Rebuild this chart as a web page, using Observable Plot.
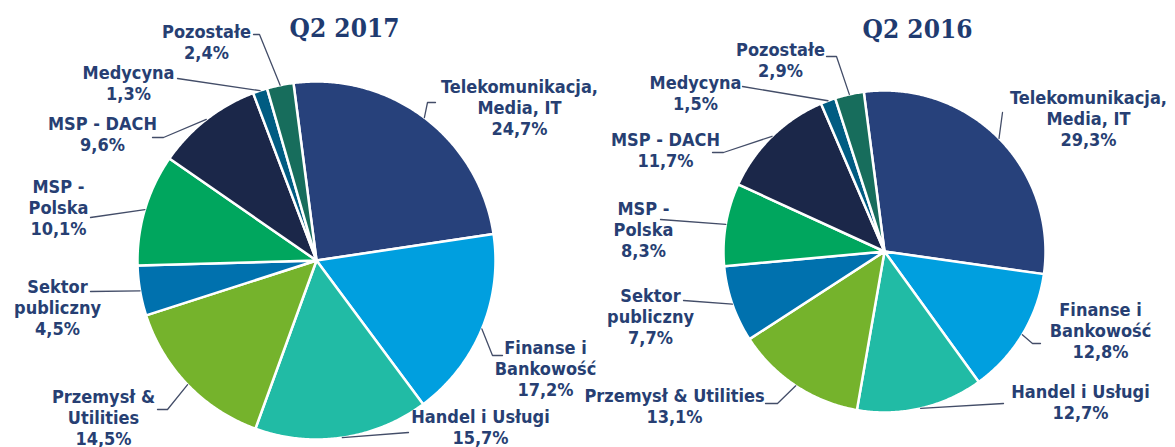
<!DOCTYPE html>
<html>
<head>
<meta charset="utf-8">
<script src="https://cdn.jsdelivr.net/npm/d3@7"></script>
<script src="https://cdn.jsdelivr.net/npm/@observablehq/plot@0.6"></script>
<style>
  html, body { margin: 0; padding: 0; background: #ffffff; }
  #chart svg { display: block; font-stretch: condensed; }
</style>
</head>
<body>
<div id="chart"></div>
<script>
// ---------- data ----------
const categories = [
  "Telekomunikacja, Media, IT",
  "Finanse i Bankowość",
  "Handel i Usługi",
  "Przemysł & Utilities",
  "Sektor publiczny",
  "MSP - Polska",
  "MSP - DACH",
  "Medycyna",
  "Pozostałe"
];
const periods = ["Q2 2017", "Q2 2016"];
const q2_2017 = [24.7, 17.2, 15.7, 14.5, 4.5, 10.1, 9.6, 1.3, 2.4];
const q2_2016 = [29.3, 12.8, 12.7, 13.1, 7.7, 8.3, 11.7, 1.5, 2.9];

// ---------- styles ----------
const colors = ["#27417b", "#009fdf", "#21bba5", "#75b32c", "#0071ae", "#00a65e", "#1b2749", "#015c82", "#176d5c"];
const textColor = "#273f73";
const lineColor = "#434d68";
const labelFont = "'DejaVu Sans Condensed', 'DejaVu Sans', sans-serif";
const titleFont = "'DejaVu Serif Condensed', 'DejaVu Serif', serif";
const rotation = -7.4 * Math.PI / 180;

// ---------- layout (pixel positions of the annotations) ----------
const layout = [
  { cx: 316, cy: 260, r: 179, title: [344, 28],
    labels: [
      { x: 519, y: 107,   br: [0], path: [[427, 102], [435, 102]] },
      { x: 545, y: 368,   br: [1], path: [[492, 355], [502, 355]] },
      { x: 480, y: 426.5, br: [],  path: [[408, 432]] },
      { x: 103, y: 416.5, br: [1], path: [[167, 409], [157, 409]] },
      { x: 57,  y: 307,   br: [0], path: [[90, 291]] },
      { x: 58,  y: 207,   br: [1], path: [[90, 217]] },
      { x: 102, y: 133,   br: [],  path: [[163, 137], [152, 137]] },
      { x: 128, y: 82.5,  br: [],  path: [[177, 78]] },
      { x: 206, y: 41.5,  br: [],  path: [[259, 34], [253, 34]] }
    ] },
  { cx: 884, cy: 251, r: 161, title: [917, 29],
    labels: [
      { x: 1088, y: 118,   br: [0], path: [[1002, 112]] },
      { x: 1100, y: 330,   br: [1], path: [[1032, 343], [1040, 343]] },
      { x: 1080, y: 401,   br: [],  path: [[1003, 403]] },
      { x: 674,  y: 405.5, br: [],  path: [[777, 403], [765, 403]] },
      { x: 650,  y: 316,   br: [0], path: [[683, 300]] },
      { x: 643,  y: 229,   br: [1], path: [[660, 219]] },
      { x: 665,  y: 149,   br: [],  path: [[723, 152], [712, 152]] },
      { x: 695,  y: 92,    br: [],  path: [[742, 86]] },
      { x: 780,  y: 59.5,  br: [],  path: [[836, 56], [826, 56]] }
    ] }
];

const series = [q2_2017, q2_2016];
const fmt = v => d3.format(".1f")(v).replace(".", ",") + "%";
function wrap(name, br) {
  const words = name.split(" ");
  let out = "";
  words.forEach((w, i) => {
    out += w;
    if (i < words.length - 1) out += br.includes(i) ? "\n" : " ";
  });
  return out;
}

const slices = [], leaders = [], labels = [], titles = [];
series.forEach((values, pi) => {
  const L = layout[pi];
  const arcs = d3.pie().sort(null).startAngle(rotation).endAngle(rotation + 2 * Math.PI)(values);
  arcs.forEach((a, i) => {
    const key = pi + "-" + i;
    const cat = categories[i];
    slices.push({ key, cat, x: L.cx, y: L.cy });
    const n = Math.max(2, Math.ceil((a.endAngle - a.startAngle) / (Math.PI / 360)));
    for (let k = 0; k <= n; k++) {
      const t = a.startAngle + (a.endAngle - a.startAngle) * k / n;
      slices.push({ key, cat, x: L.cx + L.r * Math.sin(t), y: L.cy - L.r * Math.cos(t) });
    }
    slices.push({ key, cat, x: L.cx, y: L.cy });

    const mid = (a.startAngle + a.endAngle) / 2;
    const lab = L.labels[i];
    leaders.push({ key, x: L.cx + L.r * Math.sin(mid), y: L.cy - L.r * Math.cos(mid) });
    lab.path.forEach(p => leaders.push({ key, x: p[0], y: p[1] }));
    labels.push({ x: lab.x, y: lab.y, text: wrap(cat, lab.br) + "\n" + fmt(a.data) });
  });
  titles.push({ x: L.title[0], y: L.title[1], text: periods[pi] });
});

const chart = Plot.plot({
  width: 1175,
  height: 447,
  margin: 0,
  style: { background: "#ffffff", overflow: "visible" },
  x: { domain: [0, 1175], range: [0, 1175], axis: null },
  y: { domain: [0, 447], range: [0, 447], axis: null },
  color: { domain: categories, range: colors },
  marks: [
    Plot.line(slices, { x: "x", y: "y", z: "key", fill: "cat", stroke: "#ffffff", strokeWidth: 2.5, strokeLinejoin: "round", curve: "linear" }),
    Plot.line(leaders, { x: "x", y: "y", z: "key", stroke: lineColor, strokeWidth: 1.3, curve: "linear" }),
    Plot.text(labels, { x: "x", y: "y", text: "text", textAnchor: "middle", lineAnchor: "middle", lineHeight: 1.17,
      fontSize: 18, fontWeight: "bold", fontFamily: labelFont, fill: textColor }),
    Plot.text(titles, { x: "x", y: "y", text: "text", textAnchor: "middle", lineAnchor: "middle",
      fontSize: 26, fontWeight: "bold", fontFamily: titleFont, fill: "#1f3b70" })
  ]
});
document.getElementById("chart").appendChild(chart);
</script>
</body>
</html>
